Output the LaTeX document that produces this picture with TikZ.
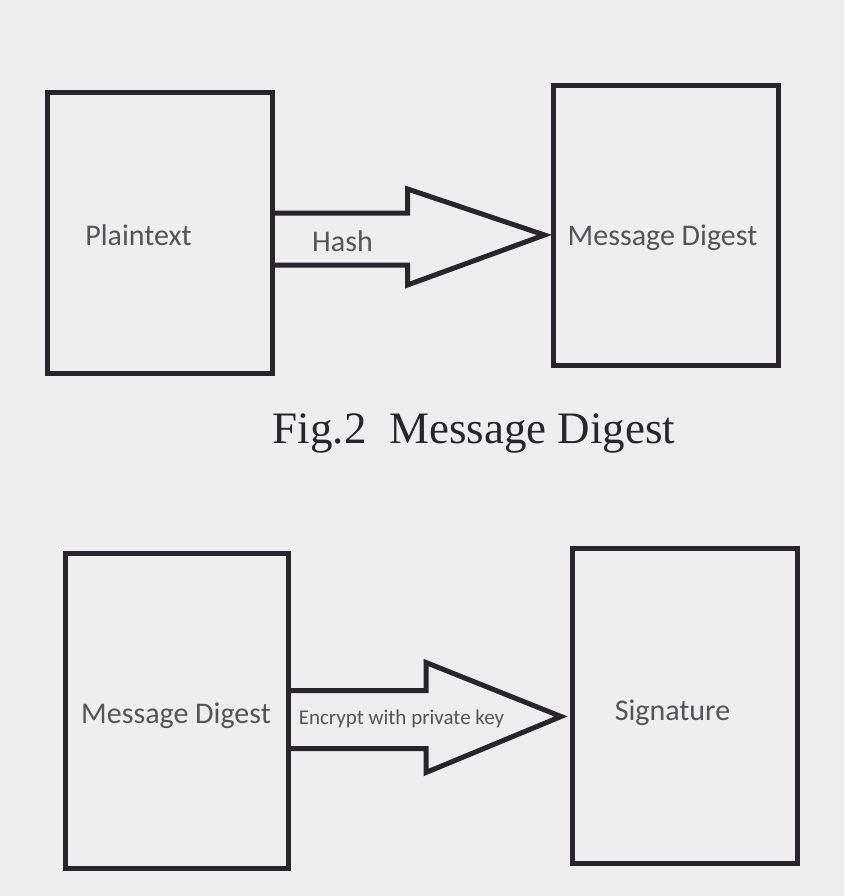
\documentclass[tikz,border=0pt]{standalone}
\usepackage{fontspec}
\setmainfont{Liberation Serif}
\newfontfamily\lblfont{Carlito}
\usetikzlibrary{calc}

\definecolor{pagecol}{RGB}{238,238,238}
\definecolor{inkcol}{RGB}{40,38,42}
\definecolor{txtcol}{RGB}{85,85,88}

\tikzset{
  box/.style={draw=inkcol, line width=5pt, minimum width=225pt, minimum height=280pt, inner sep=0pt},
  blockarrow/.style={draw=inkcol, line width=5pt, line join=miter},
  lbl/.style={text=txtcol, font=\lblfont\fontsize{30}{35}\selectfont, anchor=base, inner sep=0pt},
}

\begin{document}
\begin{tikzpicture}[x=1pt,y=-1pt]
\fill [pagecol] (0,0) rectangle (844,896);
\useasboundingbox (0,0) rectangle (844,896);

%Shape: Rectangle [top row]
\node [box] (pt) at (160,233) {};
\node [box] (md) at (665.5,225.5) {};
%Shape: Rectangle [bottom row]
\node [box, minimum width=223pt, minimum height=315pt] (mdb) at (176.5,710.5) {};
\node [box, minimum height=315pt] (sig) at (685,705.5) {};

%Shape: Block Arrow [hash]
\coordinate (s1) at ($(pt.east)+(0,5)$);
\coordinate (t1) at ($(md.west |- s1)+(-6,-3)$);
\draw [blockarrow] ($(s1)+(0,-25)$) -- ($(t1)+(-137,-22)$) -- ($(t1)+(-137,-46)$) -- (t1) -- ($(t1)+(-137,50)$) -- ($(t1)+(-137,30)$) -- ($(s1)+(0,27)$);

%Shape: Block Arrow [encrypt]
\coordinate (s2) at ($(mdb.east)+(0,9)$);
\coordinate (t2) at ($(sig.west |- s2)+(-9,-3)$);
\draw [blockarrow] ($(s2)+(0,-29)$) -- ($(t2)+(-135,-26)$) -- ($(t2)+(-135,-54)$) -- (t2) -- ($(t2)+(-135,56)$) -- ($(t2)+(-135,32)$) -- ($(s2)+(0,29)$);

% Text Node
\node [lbl] (ptl) at (138.5,245) {Plaintext};
% Text Node
\node [lbl] (mdl) at (662.5,245) {Message Digest};
% Text Node
\node [lbl] (hashl) at (342.5,251) {Hash};
% Text Node
\node [lbl] (mdbl) at (176,723) {Message Digest};
% Text Node
\node [lbl] (sigl) at (672.5,720) {Signature};
% Text Node
\node [lbl, font=\lblfont\fontsize{21}{25}\selectfont] (encl) at (401.5,724) {Encrypt with private key};

% Caption
\node [anchor=base, inner sep=0pt, text=inkcol, font=\fontsize{45}{50}\selectfont] (cap) at (474,443) {Fig.2\ \ Message Digest};

\end{tikzpicture}
\end{document}
